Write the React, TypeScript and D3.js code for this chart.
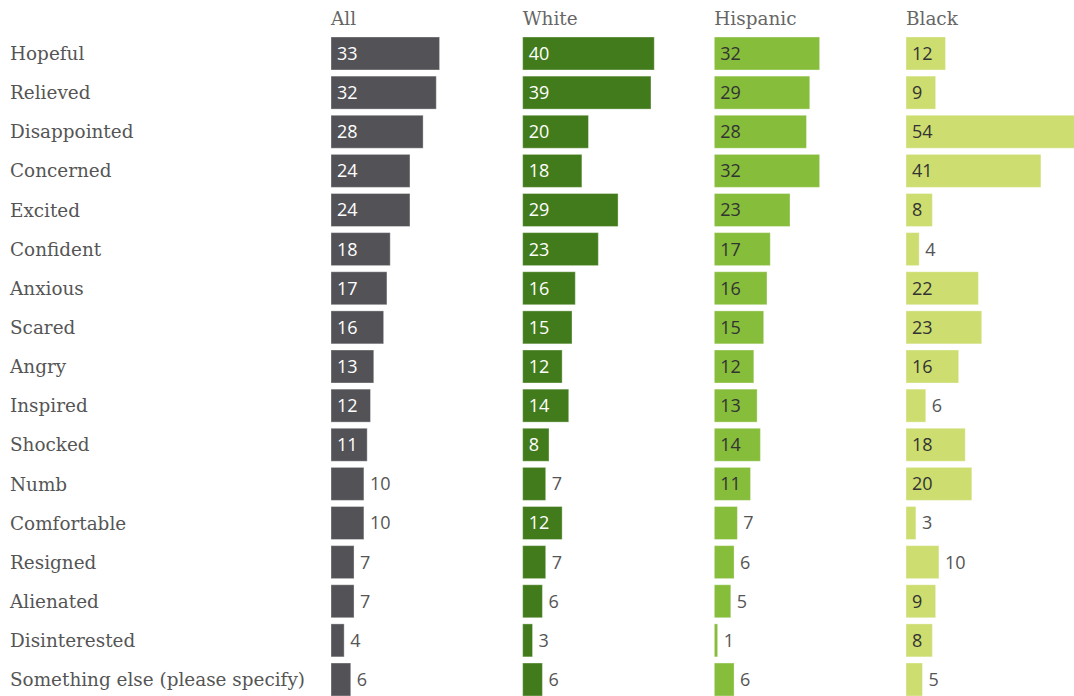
import React from "react";
import * as d3 from "d3";

const categories = [
  "Hopeful", "Relieved", "Disappointed", "Concerned", "Excited", "Confident",
  "Anxious", "Scared", "Angry", "Inspired", "Shocked", "Numb", "Comfortable",
  "Resigned", "Alienated", "Disinterested", "Something else (please specify)",
];
const groups = ["All", "White", "Hispanic", "Black"];
const allValues = [33, 32, 28, 24, 24, 18, 17, 16, 13, 12, 11, 10, 10, 7, 7, 4, 6];
const whiteValues = [40, 39, 20, 18, 29, 23, 16, 15, 12, 14, 8, 7, 12, 7, 6, 3, 6];
const hispanicValues = [32, 29, 28, 32, 23, 17, 16, 15, 12, 13, 14, 11, 7, 6, 5, 1, 6];
const blackValues = [12, 9, 54, 41, 8, 4, 22, 23, 16, 6, 18, 20, 3, 10, 9, 8, 5];
const seriesValues = [allValues, whiteValues, hispanicValues, blackValues];
const barColors = ["#535257", "#427b1b", "#86bd3b", "#cddd6f"];
const insideTextColors = ["#ffffff", "#ffffff", "#333333", "#333333"];

const W = 1074;
const H = 696;

export default function App() {
  const y = d3.scaleBand<string>().domain(categories).range([37, 696]).paddingInner(0.157).paddingOuter(0);
  const col = d3.scaleBand<string>().domain(groups).range([331, 331 + 4 * 191.67]);
  const x = d3.scaleLinear().domain([0, 54]).range([0, 54 * 3.29]);
  const labelFont = "'DejaVu Serif', serif";
  const numFont = "'Open Sans', sans-serif";
  const textW = (v: number) => String(v).length * 10;

  return (
    <svg width={W} height={H} style={{ position: "absolute", left: 0, top: 0, background: "#fff" }}>
      {groups.map((g) => (
        <text key={g} x={col(g)!} y={25} fontFamily={labelFont} fontSize={18.4} fill="#666">
          {g}
        </text>
      ))}
      {categories.map((c) => (
        <text key={c} x={10} y={y(c)! + y.bandwidth() / 2} dy="0.36em" fontFamily={labelFont} fontSize={18.4} fill="#555">
          {c}
        </text>
      ))}
      {groups.map((g, gi) =>
        categories.map((c, ci) => {
          const v = seriesValues[gi][ci];
          const x0 = col(g)!;
          const w = x(v);
          const inside = textW(v) + 16 <= w + 0.5;
          const cy = y(c)! + y.bandwidth() / 2;
          return (
            <g key={g + c}>
              <rect x={x0} y={y(c)!} width={w} height={y.bandwidth()} fill={barColors[gi]} stroke="rgba(255,255,255,0.35)" strokeWidth={1} />
              <text
                x={inside ? x0 + 6 : x0 + w + 6}
                y={cy}
                dy="0.36em"
                fontFamily={numFont}
                fontSize={18}
                fill={inside ? insideTextColors[gi] : "#555"}
              >
                {v}
              </text>
            </g>
          );
        })
      )}
    </svg>
  );
}
